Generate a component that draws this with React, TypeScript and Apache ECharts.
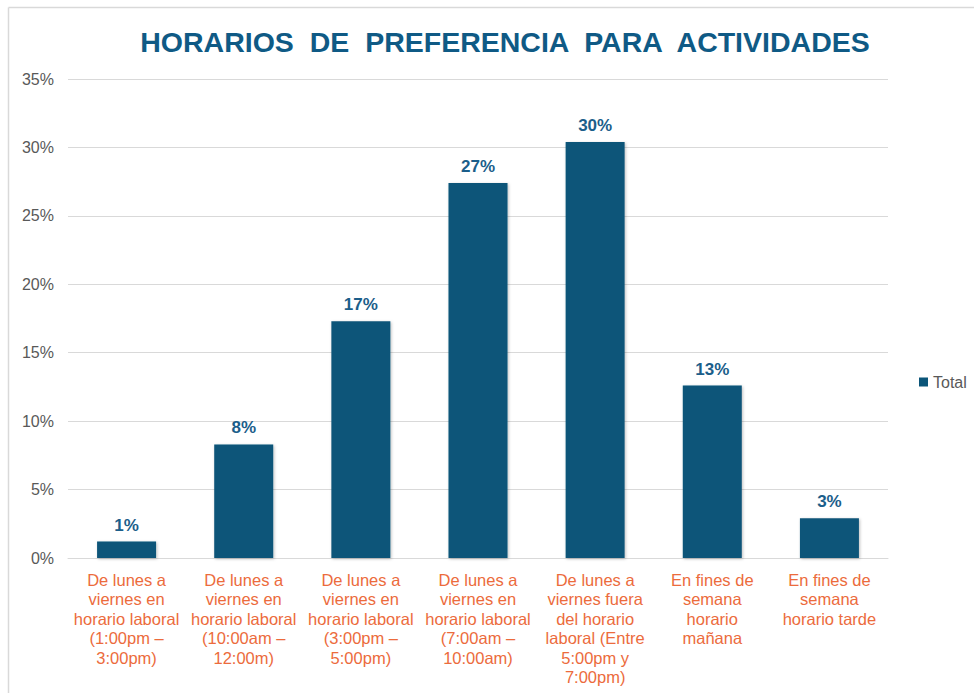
import React, { useEffect, useRef } from "react";
import * as echarts from "echarts";

const title = "HORARIOS  DE  PREFERENCIA  PARA  ACTIVIDADES";
const seriesName = "Total";
const categories = [
  "De lunes a\nviernes en\nhorario laboral\n(1:00pm –\n3:00pm)",
  "De lunes a\nviernes en\nhorario laboral\n(10:00am –\n12:00m)",
  "De lunes a\nviernes en\nhorario laboral\n(3:00pm –\n5:00pm)",
  "De lunes a\nviernes en\nhorario laboral\n(7:00am –\n10:00am)",
  "De lunes a\nviernes fuera\ndel horario\nlaboral (Entre\n5:00pm y\n7:00pm)",
  "En fines de\nsemana\nhorario\nmañana",
  "En fines de\nsemana\nhorario tarde",
];
const values = [1.2, 8.3, 17.3, 27.4, 30.4, 12.6, 2.9];
const yTicks = { min: 0, max: 35, interval: 5 };

export default function App() {
  const ref = useRef<HTMLDivElement>(null);
  useEffect(() => {
    if (!ref.current) return;
    const chart = echarts.init(ref.current, null, { renderer: "svg" });
    const font = "'Liberation Sans', Arial, sans-serif";
    chart.setOption({
      animation: false,
      backgroundColor: "#ffffff",
      textStyle: { fontFamily: font },
      title: {
        text: title,
        left: 500,
        textAlign: "center",
        top: 22,
        textStyle: { fontSize: 28.5, fontWeight: "bold", color: "#0F5A85", fontFamily: font },
      },
      graphic: [
        {
          type: "line",
          shape: { x1: 8.5, y1: 7.5, x2: 974, y2: 7.5 },
          style: { stroke: "#d9d9d9", lineWidth: 1.5 },
        },
        {
          type: "line",
          shape: { x1: 8.5, y1: 7.5, x2: 8.5, y2: 693 },
          style: { stroke: "#d9d9d9", lineWidth: 1.5 },
        },
      ],
      legend: {
        data: [seriesName],
        left: 914,
        top: 369,
        orient: "vertical",
        icon: "rect",
        itemWidth: 9,
        itemHeight: 9,
        itemGap: 5,
        textStyle: { color: "#595959", fontSize: 16, fontFamily: font },
      },
      grid: {
        left: 68,
        right: 86,
        top: 79,
        bottom: 135,
        containLabel: false,
        outerBoundsMode: "none",
      },
      xAxis: {
        type: "category",
        data: categories,
        axisTick: { show: false },
        axisLine: { lineStyle: { color: "#d9d9d9", width: 1 } },
        axisLabel: {
          interval: 0,
          color: "#EC6B3C",
          fontSize: 16.5,
          lineHeight: 19.5,
          margin: 12,
          fontFamily: font,
        },
      },
      yAxis: {
        type: "value",
        min: yTicks.min,
        max: yTicks.max,
        interval: yTicks.interval,
        axisLine: { show: false },
        axisTick: { show: false },
        splitLine: { lineStyle: { color: "#d9d9d9", width: 1 } },
        axisLabel: {
          formatter: (v: number) => `${v}%`,
          color: "#595959",
          fontSize: 16,
          margin: 14,
          fontFamily: font,
        },
      },
      series: [
        {
          name: seriesName,
          type: "bar",
          data: values,
          barWidth: 59,
          itemStyle: {
            color: "#0B5579",
            shadowColor: "rgba(0,0,0,0.25)",
            shadowBlur: 3,
            shadowOffsetX: 1,
            shadowOffsetY: 1,
          },
          label: {
            show: true,
            position: "top",
            distance: 8,
            formatter: (p: any) => `${Math.round(p.value)}%`,
            color: "#1B5E8A",
            fontWeight: "bold",
            fontSize: 17,
            fontFamily: font,
          },
        },
      ],
    });
    return () => chart.dispose();
  }, []);
  return (
    <div
      ref={ref}
      style={{ position: "fixed", left: 0, top: 0, width: 974, height: 693 }}
    />
  );
}
